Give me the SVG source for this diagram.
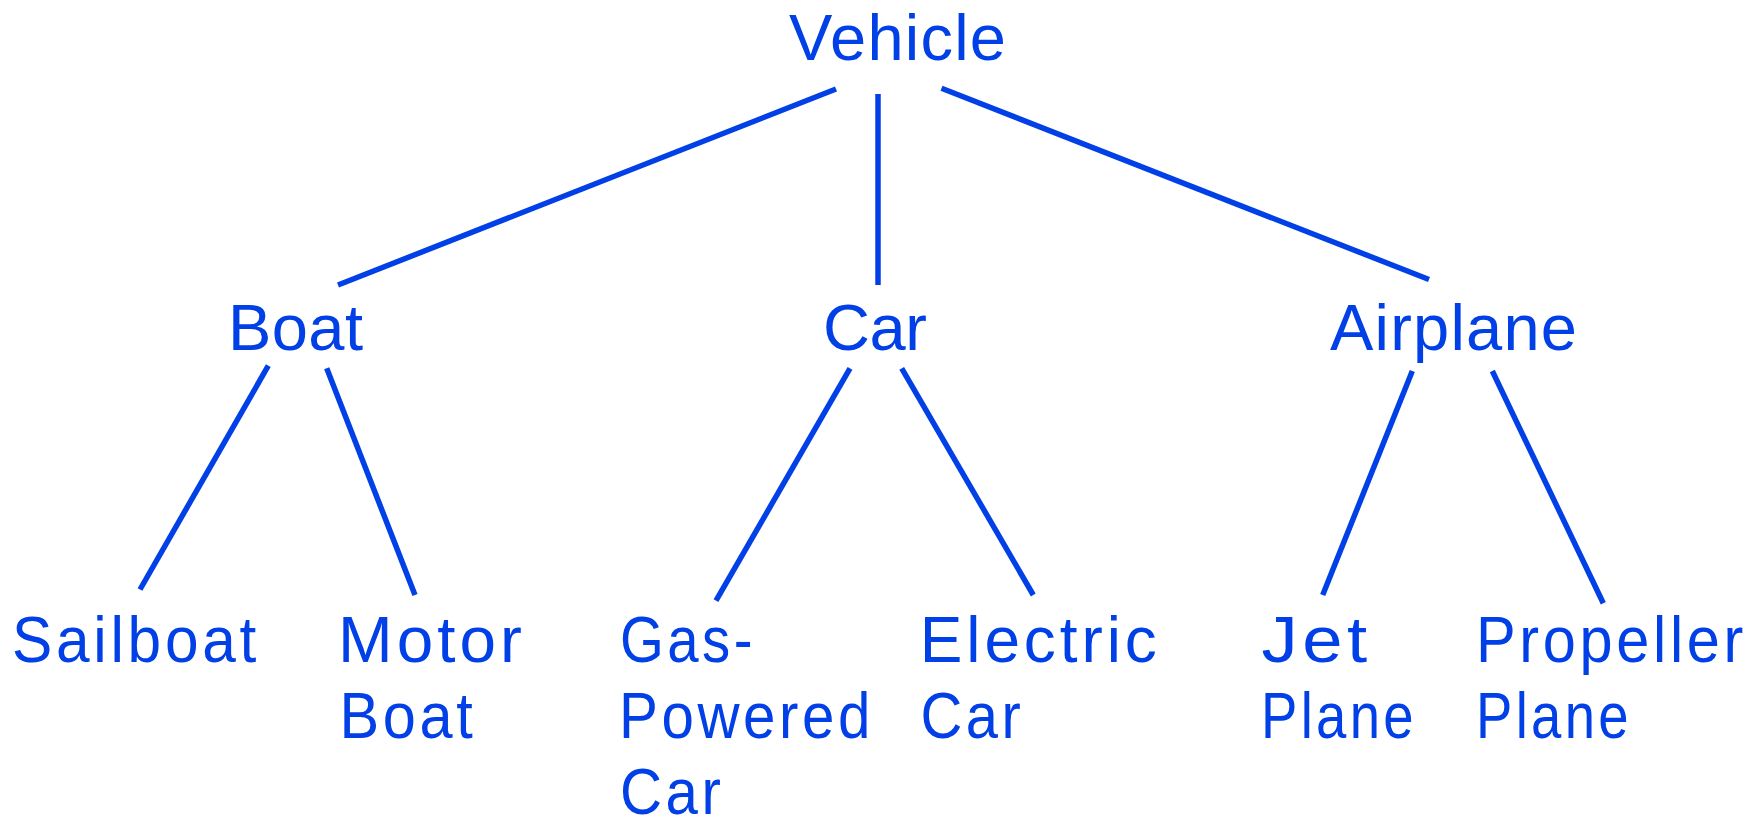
<svg xmlns="http://www.w3.org/2000/svg" width="1763" height="817" viewBox="0 0 1763 817">
<style>
  .lbl { font-family: "Liberation Sans", Arial, sans-serif; font-size: 65px; fill: #0040E6; }
  .low { letter-spacing: 4px; }
  .edge { stroke: #0040E6; stroke-width: 5.5; fill: none; stroke-linecap: butt; }
</style>
<rect x="0" y="0" width="1763" height="817" fill="#FFFFFF"/>
<g id="connectors">
  <line class="edge" x1="836" y1="89" x2="338" y2="285"/>
  <line class="edge" x1="878" y1="94" x2="878" y2="285"/>
  <line class="edge" x1="941.5" y1="88.3" x2="1429" y2="279.5"/>
  <line class="edge" x1="268.3" y1="365.7" x2="140" y2="589.5"/>
  <line class="edge" x1="326.7" y1="368.3" x2="415" y2="595"/>
  <line class="edge" x1="850" y1="368.3" x2="716" y2="600.7"/>
  <line class="edge" x1="901.7" y1="368.3" x2="1033.3" y2="595"/>
  <line class="edge" x1="1412.3" y1="371" x2="1322.7" y2="595"/>
  <line class="edge" x1="1492.3" y1="371" x2="1603.3" y2="603.3"/>
</g>
<g id="vehicle"><text class="lbl" x="789" y="60" textLength="217">Vehicle</text></g>
<g id="boat"><text class="lbl" x="228" y="350" textLength="135">Boat</text></g>
<g id="car"><text class="lbl" x="823" y="350" textLength="104">Car</text></g>
<g id="airplane"><text class="lbl" x="1330" y="350" textLength="247">Airplane</text></g>
<g id="sailboat"><text class="lbl low" x="12" y="661.7" textLength="248" lengthAdjust="spacingAndGlyphs">Sailboat</text></g>
<g id="motor-boat">
  <text class="lbl low" x="338" y="661.7" textLength="188" lengthAdjust="spacingAndGlyphs">Motor</text>
  <text class="lbl low" x="339.5" y="738.3" textLength="137" lengthAdjust="spacingAndGlyphs">Boat</text>
</g>
<g id="gas-powered-car">
  <text class="lbl low" x="620" y="661.7" textLength="136" lengthAdjust="spacingAndGlyphs">Gas-</text>
  <text class="lbl low" x="619" y="738.3" textLength="255" lengthAdjust="spacingAndGlyphs">Powered</text>
  <text class="lbl low" x="620" y="814" textLength="104.5" lengthAdjust="spacingAndGlyphs">Car</text>
</g>
<g id="electric-car">
  <text class="lbl low" x="919.7" y="661.7" textLength="241" lengthAdjust="spacingAndGlyphs">Electric</text>
  <text class="lbl low" x="920.4" y="738.3" textLength="104" lengthAdjust="spacingAndGlyphs">Car</text>
</g>
<g id="jet-plane">
  <text class="lbl low" x="1261.5" y="661.7" textLength="110" lengthAdjust="spacingAndGlyphs">Jet</text>
  <text class="lbl low" x="1261" y="738.3" textLength="156" lengthAdjust="spacingAndGlyphs">Plane</text>
</g>
<g id="propeller-plane">
  <text class="lbl low" x="1476" y="661.7" textLength="271" lengthAdjust="spacingAndGlyphs">Propeller</text>
  <text class="lbl low" x="1476" y="738.3" textLength="156" lengthAdjust="spacingAndGlyphs">Plane</text>
</g>
</svg>
